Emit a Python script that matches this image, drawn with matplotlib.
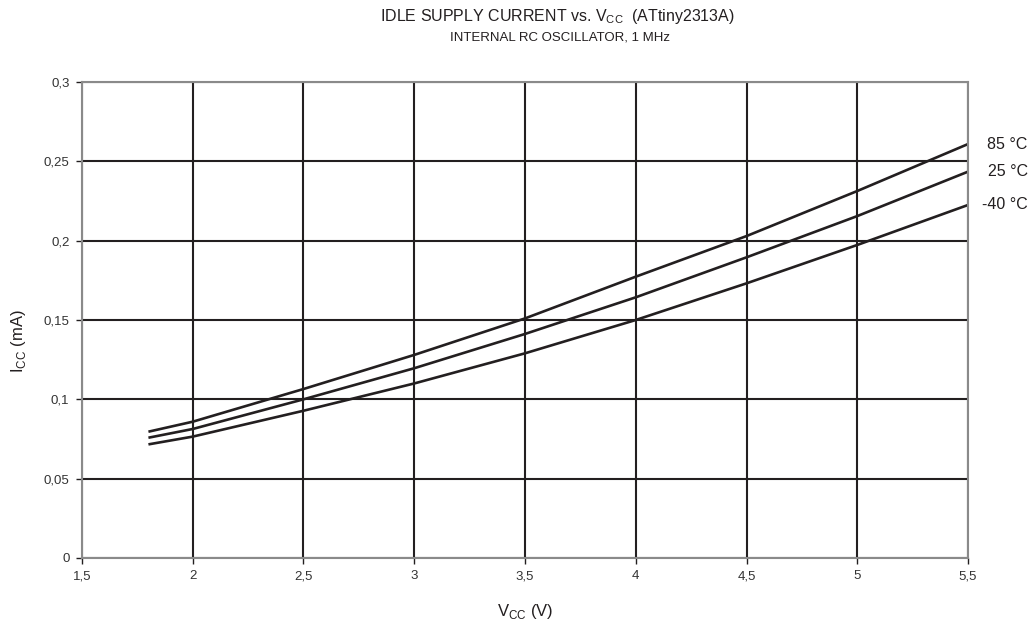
import matplotlib.pyplot as plt
import numpy as np

plt.rcParams['font.family'] = ['Liberation Sans', 'DejaVu Sans']

# Vcc (V)
vcc = [1.8, 2.0, 2.5, 3.0, 3.5, 4.0, 4.5, 5.0, 5.5]
# Icc (mA) per temperature
i_85 = [0.0796, 0.0859, 0.1065, 0.1280, 0.1510, 0.1773, 0.2029, 0.2313, 0.2609]
i_25 = [0.0758, 0.0813, 0.1000, 0.1196, 0.1412, 0.1643, 0.1895, 0.2155, 0.2435]
i_m40 = [0.0716, 0.0765, 0.0928, 0.1100, 0.1290, 0.1500, 0.1731, 0.1973, 0.2225]
labels = ['85 °C', '25 °C', '-40 °C']

xticks = [1.5, 2, 2.5, 3, 3.5, 4, 4.5, 5, 5.5]
xtick_labels = ['1,5', '2', '2,5', '3', '3,5', '4', '4,5', '5', '5,5']
yticks = [0, 0.05, 0.1, 0.15, 0.2, 0.25, 0.3]
ytick_labels = ['0', '0,05', '0,1', '0,15', '0,2', '0,25', '0,3']

fig = plt.figure(figsize=(10.35, 6.28), dpi=100)
ax = fig.add_axes([0.0792, 0.1115, 0.8561, 0.7579])

for serie, lab in zip([i_85, i_25, i_m40], labels):
    ax.plot(vcc, serie, color='#231f20', lw=1.9, solid_capstyle='butt')
    # etiqueta alineada a la derecha fuera del area
    ax.annotate(lab, xy=(1.0, serie[-1]), xycoords=('axes fraction', 'data'),
                xytext=(43, 0), textcoords='offset points',
                va='center', ha='right', fontsize=11.5, color='#231f20',
                annotation_clip=False)

ax.set_xlim(1.5, 5.5)
ax.set_ylim(0, 0.3)
ax.set_xticks(xticks)
ax.set_xticklabels(xtick_labels, fontsize=9.5)
ax.set_yticks(yticks)
ax.set_yticklabels(ytick_labels, fontsize=9.5)
ax.grid(True, color='#231f20', lw=1.5)
ax.set_axisbelow(True)
for s in ax.spines.values():
    s.set_color('#8a8a8a')
    s.set_linewidth(1.5)
ax.tick_params(direction='out', length=4, color='#231f20', width=1, pad=5, labelcolor='#333333')

ax.set_xlabel('V$_{\\mathregular{CC}}$ (V)', fontsize=12, labelpad=14, color='#231f20')
ax.set_ylabel('I$_{\\mathregular{CC}}$ (mA)', fontsize=12, color='#231f20')
ax.yaxis.set_label_coords(-0.061, 0.455)

fig.text(0.539, 0.973, 'IDLE SUPPLY CURRENT vs. V$_{\\mathregular{CC}}$  (ATtiny2313A)',
         ha='center', va='center', fontsize=11.5, color='#231f20')
fig.text(0.541, 0.940, 'INTERNAL RC OSCILLATOR, 1 MHz',
         ha='center', va='center', fontsize=9.5, color='#231f20')

fig.savefig('out.png', dpi=100)
